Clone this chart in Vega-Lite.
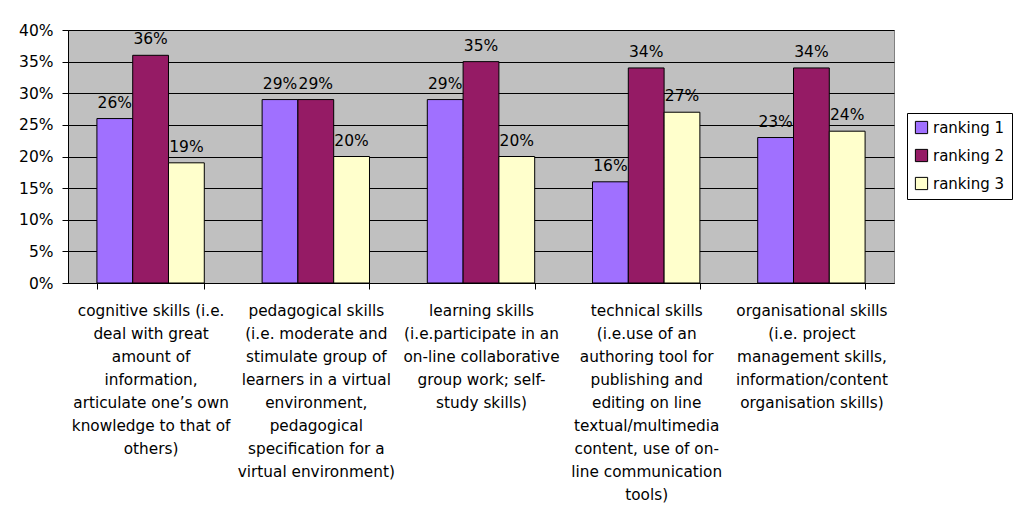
{
  "$schema": "https://vega.github.io/schema/vega-lite/v6.json",
  "width": 826,
  "height": 253,
  "autosize": "none",
  "padding": {"left": 68, "top": 30, "right": 123, "bottom": 247},
  "background": "white",
  "config": {
    "font": "DejaVu Sans",
    "view": {"fill": "#C0C0C0", "stroke": "#808080", "strokeWidth": 1}
  },
  "data": {
    "values": [
      {"cat": "cognitive skills (i.e.|deal with great|amount of|information,|articulate one’s own|knowledge to that of|others)", "series": "ranking 1", "value": 0.26},
      {"cat": "cognitive skills (i.e.|deal with great|amount of|information,|articulate one’s own|knowledge to that of|others)", "series": "ranking 2", "value": 0.36},
      {"cat": "cognitive skills (i.e.|deal with great|amount of|information,|articulate one’s own|knowledge to that of|others)", "series": "ranking 3", "value": 0.19},
      {"cat": "pedagogical skills|(i.e. moderate and|stimulate group of|learners in a virtual|environment,|pedagogical|specification for a|virtual environment)", "series": "ranking 1", "value": 0.29},
      {"cat": "pedagogical skills|(i.e. moderate and|stimulate group of|learners in a virtual|environment,|pedagogical|specification for a|virtual environment)", "series": "ranking 2", "value": 0.29},
      {"cat": "pedagogical skills|(i.e. moderate and|stimulate group of|learners in a virtual|environment,|pedagogical|specification for a|virtual environment)", "series": "ranking 3", "value": 0.20},
      {"cat": "learning skills|(i.e.participate in an|on-line collaborative|group work; self-|study skills)", "series": "ranking 1", "value": 0.29},
      {"cat": "learning skills|(i.e.participate in an|on-line collaborative|group work; self-|study skills)", "series": "ranking 2", "value": 0.35},
      {"cat": "learning skills|(i.e.participate in an|on-line collaborative|group work; self-|study skills)", "series": "ranking 3", "value": 0.20},
      {"cat": "technical skills|(i.e.use of an|authoring tool for|publishing and|editing on line|textual/multimedia|content, use of on-|line communication|tools)", "series": "ranking 1", "value": 0.16},
      {"cat": "technical skills|(i.e.use of an|authoring tool for|publishing and|editing on line|textual/multimedia|content, use of on-|line communication|tools)", "series": "ranking 2", "value": 0.34},
      {"cat": "technical skills|(i.e.use of an|authoring tool for|publishing and|editing on line|textual/multimedia|content, use of on-|line communication|tools)", "series": "ranking 3", "value": 0.27},
      {"cat": "organisational skills|(i.e. project|management skills,|information/content|organisation skills)", "series": "ranking 1", "value": 0.23},
      {"cat": "organisational skills|(i.e. project|management skills,|information/content|organisation skills)", "series": "ranking 2", "value": 0.34},
      {"cat": "organisational skills|(i.e. project|management skills,|information/content|organisation skills)", "series": "ranking 3", "value": 0.24}
    ]
  },
  "encoding": {
    "x": {
      "field": "cat",
      "type": "nominal",
      "sort": null,
      "title": null,
      "scale": {"paddingInner": 0.35, "paddingOuter": 0.175},
      "axis": {
        "labelExpr": "split(datum.label, '|')",
        "labelAngle": 0,
        "labelFontSize": 15.3,
        "labelColor": "black",
        "labelLineHeight": 23,
        "labelPadding": 14,
        "labelLimit": 300,
        "labelOverlap": false,
        "labelBound": false,
        "labelBaseline": "top",
        "tickBand": "extent",
        "tickSize": 6,
        "tickColor": "black",
        "domainColor": "black",
        "grid": false
      }
    },
    "xOffset": {"field": "series", "type": "nominal", "sort": null},
    "y": {
      "field": "value",
      "type": "quantitative",
      "title": null,
      "scale": {"domain": [0, 0.4], "nice": false},
      "axis": {
        "format": ".0%",
        "values": [0, 0.05, 0.1, 0.15, 0.2, 0.25, 0.3, 0.35, 0.4],
        "labelFontSize": 15.5,
        "labelColor": "black",
        "labelPadding": 9,
        "tickSize": 6,
        "tickColor": "black",
        "domainColor": "black",
        "grid": true,
        "gridColor": "black",
        "gridOpacity": 1,
        "gridWidth": 1
      }
    }
  },
  "layer": [
    {
      "mark": {"type": "bar", "stroke": "black", "strokeWidth": 1},
      "encoding": {
        "color": {
          "field": "series",
          "type": "nominal",
          "sort": null,
          "title": null,
          "scale": {"domain": ["ranking 1", "ranking 2", "ranking 3"], "range": ["#A070FF", "#951B65", "#FFFFCC"]},
          "legend": {
            "orient": "none",
            "legendX": 839,
            "legendY": 83,
            "symbolType": "square",
            "symbolSize": 150,
            "symbolStrokeColor": "black",
            "symbolStrokeWidth": 1,
            "symbolOpacity": 1,
            "labelFontSize": 15,
            "labelColor": "black",
            "labelOffset": 4,
            "rowPadding": 11,
            "padding": 7,
            "strokeColor": "black",
            "fillColor": "white"
          }
        }
      }
    },
    {
      "mark": {"type": "text", "baseline": "alphabetic", "dy": -11, "fontSize": 15.5, "color": "black"},
      "encoding": {
        "text": {"field": "value", "type": "quantitative", "format": ".0%"}
      }
    }
  ]
}
